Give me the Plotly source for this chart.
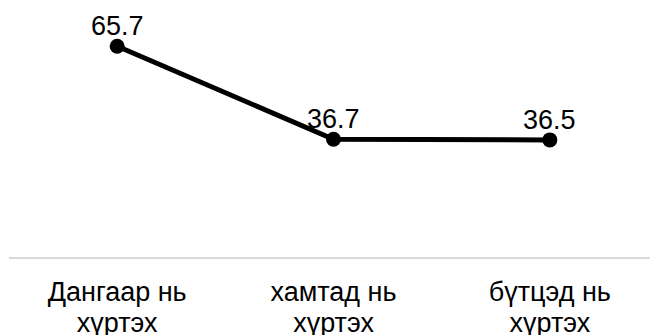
import plotly.graph_objects as go

categories = ["Дангаар нь хүртэх", "хамтад нь хүртэх", "бүтцэд нь хүртэх"]
tick_line1 = ["Дангаар нь", "хамтад нь", "бүтцэд нь"]
tick_line2 = ["хүртэх", "хүртэх", "хүртэх"]
values = [65.7, 36.7, 36.5]
value_labels = ["65.7", "36.7", "36.5"]

FONT = "Liberation Sans, Arial"
fig = go.Figure()
fig.add_trace(go.Scatter(
    x=categories, y=values, mode="lines+markers",
    line=dict(color="#000000", width=5),
    marker=dict(color="#000000", size=15),
    cliponaxis=False, showlegend=False, hoverinfo="skip",
))
# invisible trace so the second (label) axis is drawn
fig.add_trace(go.Scatter(
    x=categories, y=values, xaxis="x2", mode="markers",
    marker=dict(opacity=0), showlegend=False, hoverinfo="skip",
))
for c, v, t in zip(categories, values, value_labels):
    fig.add_annotation(x=c, y=v, text=t, showarrow=False, yanchor="bottom",
                       yshift=3, font=dict(family=FONT, size=27, color="#000000"))

fig.update_layout(
    width=650, height=335,
    margin=dict(l=1, r=0, t=0, b=86, autoexpand=False),
    paper_bgcolor="white", plot_bgcolor="white",
    font=dict(family=FONT, size=27, color="#000000"),
    xaxis=dict(type="category", categoryorder="array", categoryarray=categories,
               showgrid=False, showline=True, linecolor="#d9d9d9", linewidth=2,
               range=[-0.5, 2.5], automargin=False,
               tickvals=categories, ticktext=tick_line1,
               ticks="", tickfont=dict(size=27), ticklabelstandoff=10),
    xaxis2=dict(type="category", categoryorder="array", categoryarray=categories,
                overlaying="x", side="bottom", anchor="y",
                showgrid=False, showline=False, zeroline=False,
                range=[-0.5, 2.5], automargin=False,
                tickvals=categories, ticktext=tick_line2,
                ticks="", tickfont=dict(size=27), ticklabelstandoff=47),
    yaxis=dict(range=[0, 77.6], visible=False, showgrid=False, zeroline=False,
               automargin=False),
)
fig.write_html("out.html")
